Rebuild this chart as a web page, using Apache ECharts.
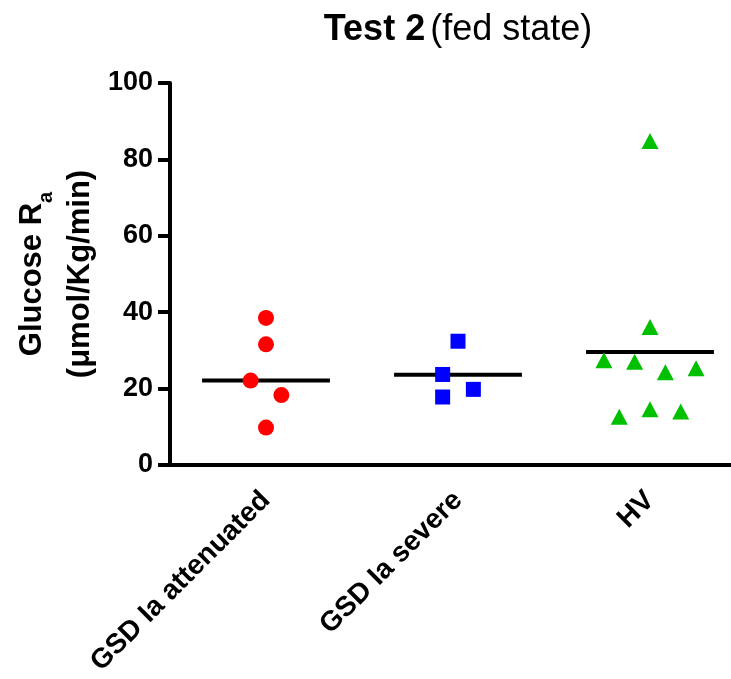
<!DOCTYPE html>
<html>
<head>
<meta charset="utf-8">
<script src="https://cdn.jsdelivr.net/npm/echarts@6/dist/echarts.min.js"></script>
<style>
html, body { margin: 0; padding: 0; background: #fff; }
#chart { width: 731px; height: 679px; }
</style>
</head>
<body>
<div id="chart"></div>
<script>
var categories = ['GSD Ia attenuated', 'GSD Ia severe', 'HV'];
var yTicks = [0, 20, 40, 60, 80, 100];

// points, x = category index + scatter offset
var attenuatedX = [0, 0, -0.08, 0.08, 0];
var attenuatedY = [38.5, 31.6, 22.1, 18.3, 9.8];
var severeX = [1, 0.92, 1.08, 0.92];
var severeY = [32.4, 23.7, 19.8, 17.8];
var hvX = [2, 2, 1.76, 1.92, 2.08, 2.24, 1.84, 2, 2.16];
var hvY = [84.8, 36.1, 27.4, 27.0, 24.3, 25.3, 12.6, 14.6, 14.0];

// horizontal lines (group centre values)
var centreLines = [22.1, 23.6, 29.6];
var halfWidth = 0.333;

function pairs(xs, ys) {
	var out = [];
	for(var i = 0; i < xs.length; i++) {
		out.push([xs[i], ys[i]]);
	}
	return out;
}

var lineSeries = [];
for(var i = 0; i < centreLines.length; i++) {
	lineSeries.push({
		type: 'line',
		xAxisIndex: 1,
		symbol: 'none',
		silent: true,
		z: 1,
		lineStyle: { color: '#000', width: 4, cap: 'butt' },
		data: [[i - halfWidth, centreLines[i]], [i + halfWidth, centreLines[i]]]
	});
}

var bold = 'bold';
var font = 'Liberation Sans, Arial, sans-serif';

var option = {
	animation: false,
	title: {
		text: '{b|Test 2} {n|(fed state)}',
		left: 453,
		top: 7,
		textAlign: 'center',
		textStyle: {
			rich: {
				b: { fontFamily: font, fontWeight: bold, fontSize: 36, color: '#000' },
				n: { fontFamily: font, fontWeight: 'normal', fontSize: 36, color: '#000' }
			}
		}
	},
	grid: {
		left: 170,
		right: -15,
		top: 83,
		bottom: 214,
		outerBoundsMode: 'none',
		containLabel: false
	},
	xAxis: [{
		type: 'category',
		data: categories,
		axisLine: { lineStyle: { color: '#000', width: 4 } },
		axisTick: { length: 12, lineStyle: { color: '#000', width: 4 }, alignWithLabel: true },
		axisLabel: {
			rotate: 45,
			margin: 31,
			interval: 0,
			color: '#000',
			fontFamily: font,
			fontWeight: bold,
			fontSize: 28
		},
		splitLine: { show: false }
	}, {
		type: 'value',
		show: false,
		min: -0.5,
		max: 2.5
	}],
	yAxis: {
		type: 'value',
		min: 0,
		max: 100,
		interval: 20,
		name: '{t|Glucose R}{s|a}\n{t|(μmol/Kg/min)}',
		nameLocation: 'middle',
		nameGap: 66,
		nameMoveOverlap: false,
		nameTextStyle: {
			lineHeight: 48,
			rich: {
				t: { fontFamily: font, fontWeight: bold, fontSize: 31, color: '#000', lineHeight: 48 },
				s: { fontFamily: font, fontWeight: bold, fontSize: 20, color: '#000', verticalAlign: 'bottom', lineHeight: 40 }
			}
		},
		axisLine: { show: true, onZero: false, lineStyle: { color: '#000', width: 4 } },
		axisTick: { show: true, length: 12, lineStyle: { color: '#000', width: 4 } },
		axisLabel: {
			margin: 17,
			color: '#000',
			fontFamily: font,
			fontWeight: bold,
			fontSize: 27,
			formatter: function(v) {
				return yTicks.indexOf(v) >= 0 ? String(v) : '';
			}
		},
		splitLine: { show: false }
	},
	series: [{
		type: 'scatter',
		xAxisIndex: 1,
		symbol: 'circle',
		symbolSize: 16,
		z: 2,
		itemStyle: { color: '#ff0000', opacity: 1 },
		data: pairs(attenuatedX, attenuatedY)
	}, {
		type: 'scatter',
		xAxisIndex: 1,
		symbol: 'rect',
		symbolSize: 15,
		z: 2,
		itemStyle: { color: '#0000ff', opacity: 1 },
		data: pairs(severeX, severeY)
	}, {
		type: 'scatter',
		xAxisIndex: 1,
		symbol: 'triangle',
		symbolSize: [17, 16],
		z: 2,
		itemStyle: { color: '#00c000', opacity: 1 },
		data: pairs(hvX, hvY)
	}].concat(lineSeries)
};

var chart = echarts.init(document.getElementById('chart'), null, { renderer: 'canvas' });
chart.setOption(option);
</script>
</body>
</html>
